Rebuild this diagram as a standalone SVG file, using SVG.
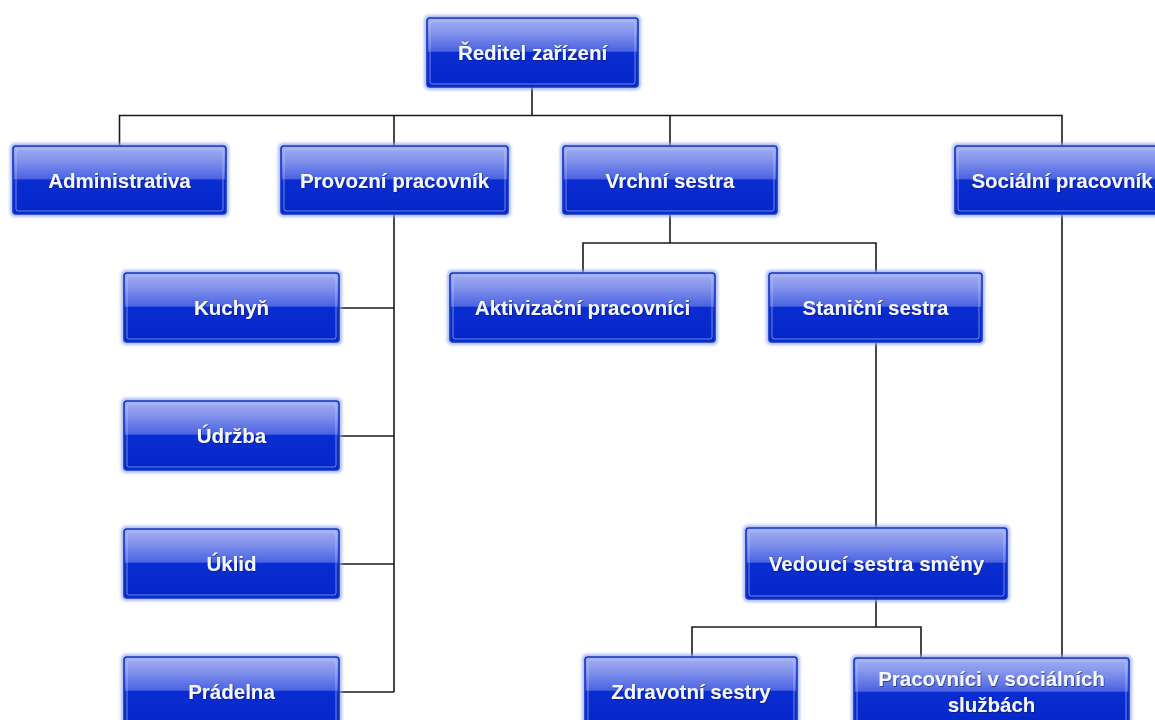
<svg xmlns="http://www.w3.org/2000/svg" width="1155" height="720" viewBox="0 0 1155 720">
<defs>
<linearGradient id="gloss" x1="0" y1="0" x2="0" y2="1">
<stop offset="0" stop-color="#a3b1f2"/>
<stop offset="0.2" stop-color="#8595ec"/>
<stop offset="0.48" stop-color="#4b63e2"/>
<stop offset="0.5" stop-color="#0a2dd2"/>
<stop offset="1" stop-color="#0527c8"/>
</linearGradient>
<filter id="glow" x="-10%" y="-20%" width="120%" height="140%">
<feGaussianBlur stdDeviation="1.6"/>
</filter>
<filter id="tsh" x="-5%" y="-20%" width="110%" height="140%">
<feDropShadow dx="0.6" dy="0.8" stdDeviation="0.6" flood-color="#0a1a60" flood-opacity="0.8"/>
</filter>
</defs>
<style>
.halo{fill:#8fa6f0;opacity:0.75;filter:url(#glow)}
.box{fill:url(#gloss);stroke:#1536c4;stroke-width:1.6}
.inner{fill:none;stroke:#c8d2ff;stroke-opacity:0.55;stroke-width:1}
.lbl{font-family:"Liberation Sans",Arial,sans-serif;font-weight:bold;font-size:20.5px;fill:#f4f6ff;text-anchor:middle;filter:url(#tsh)}
.conn{fill:none;stroke:#1a1a1a;stroke-width:1.6}
</style>
<rect width="1155" height="720" fill="#ffffff"/>
<g id="connectors" class="conn">
<path d="M532 87 V115.5"/>
<path d="M119.5 146 V115.5 H1062 V146"/>
<path d="M394 115.5 V146"/>
<path d="M670 115.5 V146"/>
<path d="M394 214 V692"/>
<path d="M339 308 H394"/>
<path d="M339 436 H394"/>
<path d="M339 564 H394"/>
<path d="M339 692 H394"/>
<path d="M670 214 V243"/>
<path d="M583 273 V243 H876 V273"/>
<path d="M876 342 V528"/>
<path d="M876 599 V627"/>
<path d="M692 657 V627 H921 V658"/>
<path d="M1062 214 V658"/>
</g>
<g id="n-reditel">
<rect class="halo" x="424" y="15" width="217" height="75" rx="5"/>
<rect class="box" x="427" y="18" width="211" height="69" rx="3"/>
<rect class="inner" x="430" y="21" width="205" height="63" rx="2"/>
<text class="lbl" x="532.5" y="60">Ředitel zařízení</text>
</g>
<g id="n-administrativa">
<rect class="halo" x="10" y="143" width="219" height="74" rx="5"/>
<rect class="box" x="13" y="146" width="213" height="68" rx="3"/>
<rect class="inner" x="16" y="149" width="207" height="62" rx="2"/>
<text class="lbl" x="119.5" y="188">Administrativa</text>
</g>
<g id="n-provozni">
<rect class="halo" x="278" y="143" width="233" height="74" rx="5"/>
<rect class="box" x="281" y="146" width="227" height="68" rx="3"/>
<rect class="inner" x="284" y="149" width="221" height="62" rx="2"/>
<text class="lbl" x="394.5" y="188">Provozní pracovník</text>
</g>
<g id="n-vrchni">
<rect class="halo" x="560" y="143" width="220" height="74" rx="5"/>
<rect class="box" x="563" y="146" width="214" height="68" rx="3"/>
<rect class="inner" x="566" y="149" width="208" height="62" rx="2"/>
<text class="lbl" x="670" y="188">Vrchní sestra</text>
</g>
<g id="n-socialni">
<rect class="halo" x="952" y="143" width="220" height="74" rx="5"/>
<rect class="box" x="955" y="146" width="214" height="68" rx="3"/>
<rect class="inner" x="958" y="149" width="208" height="62" rx="2"/>
<text class="lbl" x="1062" y="188">Sociální pracovník</text>
</g>
<g id="n-kuchyn">
<rect class="halo" x="121" y="270" width="221" height="75" rx="5"/>
<rect class="box" x="124" y="273" width="215" height="69" rx="3"/>
<rect class="inner" x="127" y="276" width="209" height="63" rx="2"/>
<text class="lbl" x="231.5" y="315">Kuchyň</text>
</g>
<g id="n-udrzba">
<rect class="halo" x="121" y="398" width="221" height="75" rx="5"/>
<rect class="box" x="124" y="401" width="215" height="69" rx="3"/>
<rect class="inner" x="127" y="404" width="209" height="63" rx="2"/>
<text class="lbl" x="231.5" y="443">Údržba</text>
</g>
<g id="n-uklid">
<rect class="halo" x="121" y="526" width="221" height="75" rx="5"/>
<rect class="box" x="124" y="529" width="215" height="69" rx="3"/>
<rect class="inner" x="127" y="532" width="209" height="63" rx="2"/>
<text class="lbl" x="231.5" y="571">Úklid</text>
</g>
<g id="n-pradelna">
<rect class="halo" x="121" y="654" width="221" height="75" rx="5"/>
<rect class="box" x="124" y="657" width="215" height="69" rx="3"/>
<rect class="inner" x="127" y="660" width="209" height="63" rx="2"/>
<text class="lbl" x="231.5" y="699">Prádelna</text>
</g>
<g id="n-aktivizacni">
<rect class="halo" x="447" y="270" width="271" height="75" rx="5"/>
<rect class="box" x="450" y="273" width="265" height="69" rx="3"/>
<rect class="inner" x="453" y="276" width="259" height="63" rx="2"/>
<text class="lbl" x="582.5" y="315">Aktivizační pracovníci</text>
</g>
<g id="n-stanicni">
<rect class="halo" x="766" y="270" width="219" height="75" rx="5"/>
<rect class="box" x="769" y="273" width="213" height="69" rx="3"/>
<rect class="inner" x="772" y="276" width="207" height="63" rx="2"/>
<text class="lbl" x="875.5" y="315">Staniční sestra</text>
</g>
<g id="n-vedouci">
<rect class="halo" x="743" y="525" width="267" height="77" rx="5"/>
<rect class="box" x="746" y="528" width="261" height="71" rx="3"/>
<rect class="inner" x="749" y="531" width="255" height="65" rx="2"/>
<text class="lbl" x="876.5" y="571">Vedoucí sestra směny</text>
</g>
<g id="n-zdravotni">
<rect class="halo" x="582" y="654" width="218" height="75" rx="5"/>
<rect class="box" x="585" y="657" width="212" height="69" rx="3"/>
<rect class="inner" x="588" y="660" width="206" height="63" rx="2"/>
<text class="lbl" x="691" y="699">Zdravotní sestry</text>
</g>
<g id="n-pracovnici">
<rect class="halo" x="851" y="655" width="281" height="75" rx="5"/>
<rect class="box" x="854" y="658" width="275" height="69" rx="3"/>
<rect class="inner" x="857" y="661" width="269" height="63" rx="2"/>
<text class="lbl" x="991.5" y="686">Pracovníci v sociálních</text>
<text class="lbl" x="991.5" y="712">službách</text>
</g>
</svg>
